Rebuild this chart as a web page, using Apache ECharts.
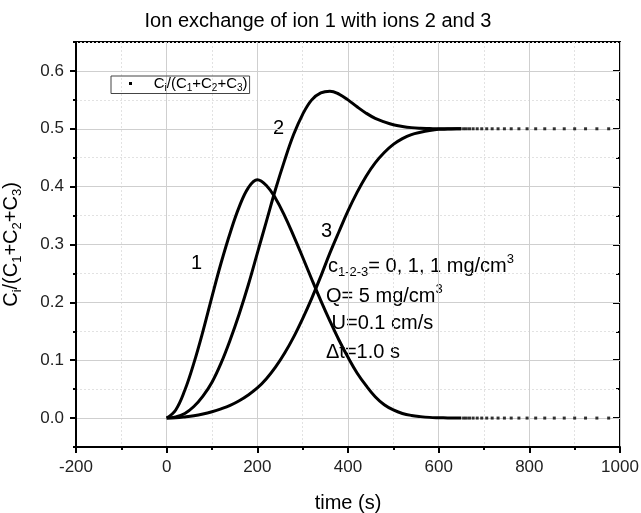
<!DOCTYPE html>
<html>
<head>
<meta charset="utf-8">
<script src="https://cdn.jsdelivr.net/npm/echarts@6/dist/echarts.min.js"></script>
<style>
  html, body { margin: 0; padding: 0; background: #fff; }
  #chart { width: 641px; height: 513px; }
</style>
</head>
<body>
<div id="chart"></div>
<script>
// time samples (s) for the continuous part of the curves
const timeDense = [0, 20, 40, 60, 80, 100, 120, 140, 160, 180, 200, 220, 240, 260, 280, 300, 320, 340, 360, 380, 400, 420, 440, 460, 480, 500, 520, 540, 560, 580, 600, 620, 640, 650];
// ion 1
const ion1 = [0, 0.014, 0.048, 0.095, 0.15, 0.21, 0.268, 0.32, 0.365, 0.398, 0.412, 0.402, 0.38, 0.35, 0.315, 0.278, 0.24, 0.203, 0.168, 0.135, 0.105, 0.078, 0.056, 0.037, 0.023, 0.014, 0.008, 0.0045, 0.0025, 0.0012, 0.0006, 0.0002, 0, 0];
// ion 2
const ion2 = [0, 0.002, 0.008, 0.02, 0.038, 0.062, 0.095, 0.135, 0.18, 0.23, 0.285, 0.34, 0.395, 0.445, 0.49, 0.525, 0.55, 0.562, 0.565, 0.56, 0.55, 0.538, 0.527, 0.518, 0.512, 0.507, 0.504, 0.502, 0.501, 0.5005, 0.5, 0.5, 0.5, 0.5];
// ion 3
const ion3 = [0, 0.0005, 0.002, 0.004, 0.007, 0.011, 0.016, 0.022, 0.03, 0.04, 0.052, 0.068, 0.088, 0.112, 0.14, 0.172, 0.207, 0.245, 0.285, 0.322, 0.358, 0.39, 0.418, 0.441, 0.459, 0.473, 0.483, 0.49, 0.494, 0.497, 0.499, 0.4995, 0.5, 0.5];
// sparse points after the curves level off
const timeTail = [655, 661, 668, 676, 685, 695, 706, 718, 731, 745, 760, 777, 795, 814, 834, 855, 877, 900, 924, 949, 975];
const tail1 = [0, 0, 0, 0, 0, 0, 0, 0, 0, 0, 0, 0, 0, 0, 0, 0, 0, 0, 0, 0, 0];
const tail23 = [0.5, 0.5, 0.5, 0.5, 0.5, 0.5, 0.5, 0.5, 0.5, 0.5, 0.5, 0.5, 0.5, 0.5, 0.5, 0.5, 0.5, 0.5, 0.5, 0.5, 0.5];

const yMajor = [0, 0.1, 0.2, 0.3, 0.4, 0.5, 0.6];

const font = 'Liberation Sans';
const black = '#000';

const pair = (xs, ys) => xs.map((x, i) => [x, ys[i]]);

const richText = {
  n: { fontSize: 20, fontFamily: font, color: '#000', lineHeight: 26, verticalAlign: 'middle' },
  sb: { fontSize: 13, fontFamily: font, color: '#000', lineHeight: 13, verticalAlign: 'bottom' },
  sp: { fontSize: 13, fontFamily: font, color: '#000', lineHeight: 13, verticalAlign: 'top' }
};
const legendRich = {
  n: { fontSize: 15, fontFamily: font, color: '#000', lineHeight: 20, verticalAlign: 'middle' },
  sb: { fontSize: 10, fontFamily: font, color: '#000', lineHeight: 10, verticalAlign: 'bottom' }
};

const chart = echarts.init(document.getElementById('chart'), null, { renderer: 'canvas' });

const lineSeries = (data) => ({
  name: 'Ci/(C1+C2+C3)',
  type: 'line',
  data: data,
  smooth: 0.4,
  symbol: 'none',
  lineStyle: { color: black, width: 3 },
  itemStyle: { color: black },
  silent: true,
  z: 3
});
const dotSeries = (data) => ({
  name: 'Ci/(C1+C2+C3)',
  type: 'scatter',
  data: data,
  symbol: 'rect',
  symbolSize: 3,
  itemStyle: { color: black },
  silent: true,
  z: 3
});

chart.setOption({
  animation: false,
  backgroundColor: '#fff',
  title: {
    text: 'Ion exchange of ion 1 with ions 2 and 3',
    left: 313,
    textAlign: 'center',
    top: 6,
    textStyle: { fontFamily: font, fontSize: 20, fontWeight: 'normal', color: '#000' }
  },
  legend: {
    left: 111,
    top: 76,
    orient: 'vertical',
    icon: 'rect',
    itemWidth: 3,
    itemHeight: 3,
    itemGap: 0,
    padding: [0, 2, 0, 18],
    borderColor: '#444',
    borderWidth: 1,
    data: [{ name: 'Ci/(C1+C2+C3)', itemStyle: { color: black } }],
    formatter: () => '{n|    C}{sb|i}{n|/(C}{sb|1}{n|+C}{sb|2}{n|+C}{sb|3}{n|)}',
    textStyle: { rich: legendRich }
  },
  grid: { left: 76, right: 21, top: 42, bottom: 66, containLabel: false, outerBoundsMode: 'none' },
  xAxis: [
    {
      type: 'value', min: -200, max: 1000, interval: 200,
      name: 'time (s)', nameLocation: 'middle', nameGap: 46,
      nameTextStyle: { fontFamily: font, fontSize: 20, color: '#000' },
      axisLine: { show: true, onZero: false, lineStyle: { color: black, width: 2 } },
      axisTick: { show: true, inside: false, length: 6, lineStyle: { color: black, width: 2 } },
      axisLabel: { fontFamily: font, fontSize: 17, color: '#222', margin: 12, formatter: (v) => String(v) },
      splitLine: { show: true, lineStyle: { color: '#cfcfcf', width: 1, type: 'solid' } },
      z: 2
    },
    {
      type: 'value', min: -200, max: 1000, interval: 100, position: 'bottom',
      axisLine: { show: false, onZero: false },
      axisTick: { show: true, inside: false, length: 3, lineStyle: { color: black, width: 2 } },
      axisLabel: { show: false },
      splitLine: { show: true, lineStyle: { color: '#e2e2e2', width: 1, type: [2, 2] } },
      z: 1
    },
    {
      type: 'value', min: -200, max: 1000, position: 'top',
      axisLine: { show: true, onZero: false, lineStyle: { color: black, width: 2 } },
      axisTick: { show: false }, axisLabel: { show: false }, splitLine: { show: false }
    }
  ],
  yAxis: [
    {
      type: 'value', min: -0.05, max: 0.65, interval: 0.1,
      name: '{n|C}{sb|i}{n|/(C}{sb|1}{n|+C}{sb|2}{n|+C}{sb|3}{n|)}',
      nameLocation: 'middle', nameGap: 52, nameRotate: 90,
      nameTextStyle: { rich: richText },
      axisLine: { show: true, onZero: false, lineStyle: { color: black, width: 2 } },
      axisTick: { show: true, inside: false, length: 6, customValues: yMajor, lineStyle: { color: black, width: 2 } },
      axisLabel: { customValues: yMajor, fontFamily: font, fontSize: 17, color: '#222', margin: 12, formatter: (v) => v.toFixed(1) },
      splitLine: { show: true, lineStyle: { color: '#cfcfcf', width: 1, type: 'solid' } },
      z: 2
    },
    {
      type: 'value', min: -0.05, max: 0.65, interval: 0.05, position: 'left',
      axisLine: { show: false, onZero: false },
      axisTick: { show: true, inside: false, length: 3, lineStyle: { color: black, width: 2 } },
      axisLabel: { show: false },
      splitLine: { show: true, lineStyle: { color: '#e2e2e2', width: 1, type: [2, 2] } },
      z: 1
    },
    {
      type: 'value', min: -0.05, max: 0.65, interval: 0.1, position: 'right',
      axisLine: { show: true, onZero: false, lineStyle: { color: black, width: 2 } },
      axisTick: { show: true, inside: true, length: 7, customValues: yMajor, lineStyle: { color: black, width: 2 } },
      axisLabel: { show: false }, splitLine: { show: false }
    },
    {
      type: 'value', min: -0.05, max: 0.65, interval: 0.05, position: 'right',
      axisLine: { show: false, onZero: false },
      axisTick: { show: true, inside: true, length: 4, lineStyle: { color: black, width: 2 } },
      axisLabel: { show: false }, splitLine: { show: false }
    }
  ],
  graphic: [
    { type: 'text', left: 191, top: 253, style: { text: '1', font: '20px Liberation Sans', fill: '#000' } },
    { type: 'text', left: 273, top: 118, style: { text: '2', font: '20px Liberation Sans', fill: '#000' } },
    { type: 'text', left: 321, top: 221, style: { text: '3', font: '20px Liberation Sans', fill: '#000' } },
    { type: 'text', left: 328, top: 253, style: { text: '{n|c}{sb|1-2-3}{n|= 0, 1, 1 mg/cm}{sp|3}', rich: richText } },
    { type: 'text', left: 326, top: 283, style: { text: '{n|Q= 5 mg/cm}{sp|3}', rich: richText } },
    { type: 'text', left: 326, top: 313, style: { text: '{n| U=0.1 cm/s}', rich: richText } },
    { type: 'text', left: 326, top: 342, style: { text: '{n|Δt=1.0 s}', rich: richText } }
  ],
  series: [
    lineSeries(pair(timeDense, ion1)),
    lineSeries(pair(timeDense, ion2)),
    lineSeries(pair(timeDense, ion3)),
    dotSeries(pair(timeTail, tail1)),
    dotSeries(pair(timeTail, tail23))
  ]
});
</script>
</body>
</html>
